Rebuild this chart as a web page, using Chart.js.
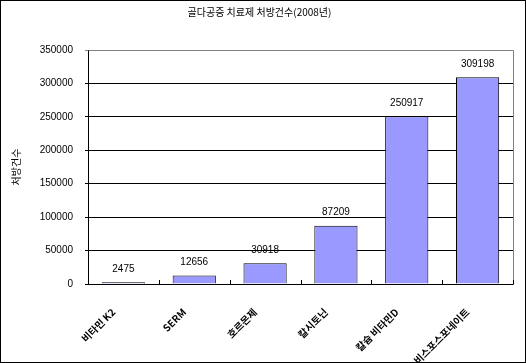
<!DOCTYPE html>
<html>
<head>
<meta charset="utf-8">
<script src="https://cdn.jsdelivr.net/npm/chart.js@4.4.1/dist/chart.umd.min.js"></script>
<style>
  html, body { margin: 0; padding: 0; background: #fff; }
  #wrap { width: 526px; height: 363px; }
</style>
</head>
<body>
<div id="wrap"><canvas id="c" width="526" height="363"></canvas></div>
<script>
const categories = ["비타민 K2", "SERM", "호르몬제", "칼시토닌", "칼슘 비타민D", "비스포스포네이트"];
const prescriptions = [2475, 12656, 30918, 87209, 250917, 309198];
const yTicks = [0, 50000, 100000, 150000, 200000, 250000, 300000, 350000];

const chartTitle = "골다공증 치료제 처방건수(2008년)";
const yTitle = "처방건수";

const numFont = "'Liberation Sans', Arial, sans-serif";
const korFont = "'Noto Sans CJK KR', sans-serif";

// value labels, inner category ticks, plot border and outer frame
const decor = {
  id: "decor",
  afterDatasetsDraw(chart) {
    const { ctx, chartArea: a, scales: { x } } = chart;
    ctx.save();
    ctx.strokeStyle = "#808080";
    ctx.lineWidth = 1;
    ctx.beginPath();
    ctx.moveTo(Math.round(a.left) + 0.5, Math.round(a.top) + 0.5);
    ctx.lineTo(Math.round(a.right) + 0.5, Math.round(a.top) + 0.5);
    ctx.lineTo(Math.round(a.right) + 0.5, Math.round(a.bottom) + 0.5);
    ctx.stroke();

    ctx.strokeStyle = "#000";
    const half = (x.getPixelForValue(1) - x.getPixelForValue(0)) / 2;
    ctx.beginPath();
    for (let i = 0; i <= categories.length; i++) {
      const px = Math.round(x.getPixelForValue(i) - half) + 0.5;
      ctx.moveTo(px, Math.round(a.bottom));
      ctx.lineTo(px, Math.round(a.bottom) - 4);
    }
    ctx.stroke();

    ctx.fillStyle = "#000";
    ctx.font = "10px " + numFont;
    ctx.textAlign = "center";
    ctx.textBaseline = "middle";
    chart.getDatasetMeta(0).data.forEach((bar, i) => {
      ctx.fillText(String(prescriptions[i]), bar.x, bar.y - 13);
    });

    ctx.strokeRect(0.5, 0.5, chart.width - 1, chart.height - 1);
    ctx.restore();
  }
};

new Chart(document.getElementById("c"), {
  type: "bar",
  data: {
    labels: categories,
    datasets: [{
      data: prescriptions,
      backgroundColor: "#9999FF",
      borderColor: "#000",
      borderWidth: 1,
      barPercentage: 0.61,
      categoryPercentage: 1
    }]
  },
  options: {
    responsive: false,
    animation: false,
    layout: { padding: { left: 6, right: 13, top: 0, bottom: 0 } },
    plugins: {
      legend: { display: false },
      tooltip: { enabled: false },
      title: {
        display: true,
        text: chartTitle,
        color: "#000",
        font: { family: korFont, size: 10, weight: "normal" },
        padding: { top: 6, bottom: 32 }
      }
    },
    scales: {
      x: {
        grid: { display: false },
        border: { color: "#000" },
        ticks: {
          color: "#000",
          font: { family: korFont, size: 10, weight: "bold" },
          minRotation: 45,
          maxRotation: 45,
          padding: 14,
          labelOffset: -10
        },
        afterFit(scale) { scale.height = 79; }
      },
      y: {
        min: 0,
        max: 350000,
        afterBuildTicks(scale) { scale.ticks = yTicks.map(v => ({ value: v })); },
        grid: {
          color: ctx => ctx.tick && ctx.tick.value === 350000 ? "#808080" : "#000",
          tickLength: 3,
          drawTicks: true
        },
        border: { color: "#000" },
        ticks: {
          color: "#000",
          font: { family: numFont, size: 10 },
          padding: 12,
          callback: v => String(v)
        },
        title: {
          display: true,
          text: yTitle,
          color: "#000",
          font: { family: korFont, size: 10 }
        },
        afterFit(scale) { scale.width = 82; }
      }
    }
  },
  plugins: [decor]
});
</script>
</body>
</html>
